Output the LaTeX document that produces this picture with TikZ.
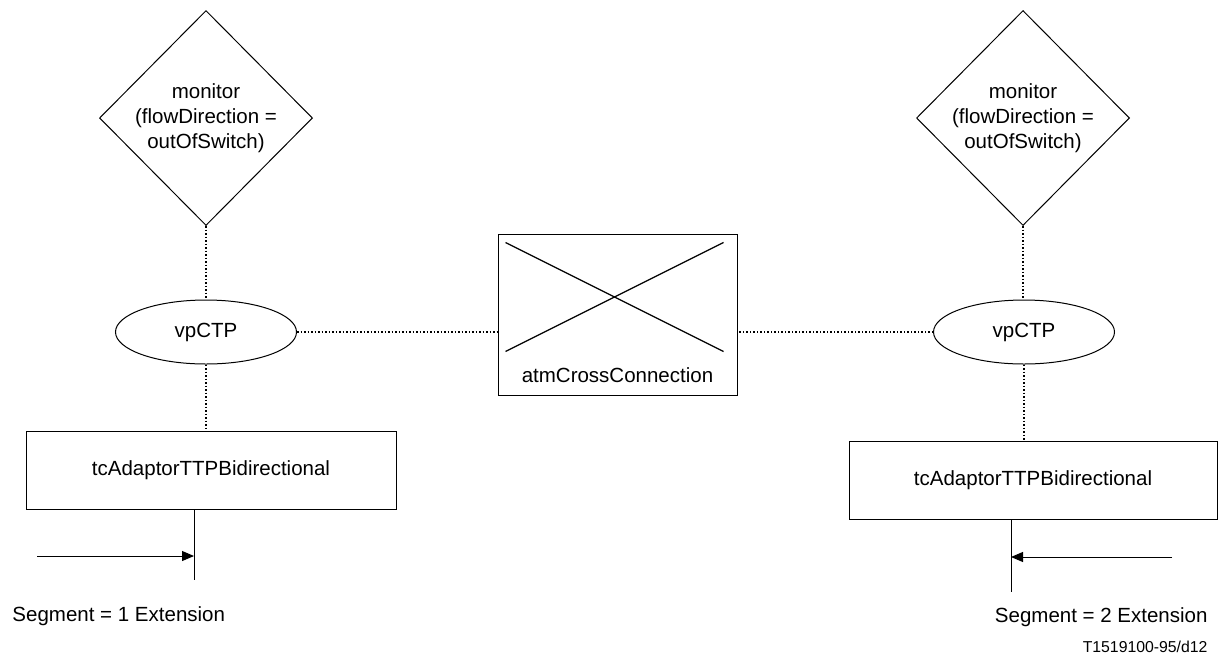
\documentclass[tikz,border=0pt]{standalone}
\usepackage{fontspec}
\setmainfont{Liberation Sans}
\usetikzlibrary{shapes.geometric,arrows.meta,calc}

\newcommand{\mainfnt}{\fontsize{20.5}{25}\selectfont}
\newcommand{\tagfnt}{\fontsize{15.8}{19}\selectfont}

\tikzset{
    mon/.style={draw, diamond, minimum width=213pt, minimum height=215pt,
        inner sep=0pt, align=center},
    ctp/.style={draw, ellipse, minimum width=181pt, minimum height=64pt},
    ttp/.style={draw, minimum width=370pt, minimum height=78pt},
    link/.style={line width=1.5pt, dash pattern=on 1.5pt off 2pt},
    flow/.style={-{Triangle[length=12pt,width=10pt]}},
}

\begin{document}
\begin{tikzpicture}[x=1pt, y=-1pt, line width=1pt, font=\mainfnt]
        \useasboundingbox (0,0) rectangle (1223,657);

        % monitors
        \node [mon] (monL) at (206,118) {monitor\\(flowDirection =\\outOfSwitch)};
        \node [mon] (monR) at (1023,118) {monitor\\(flowDirection =\\outOfSwitch)};

        % vpCTPs
        \node [ctp] (ctpL) at (206,332) {vpCTP};
        \node [ctp] (ctpR) at (1024,332) {vpCTP};

        % cross connection
        \node [draw,
            minimum width=239pt,
            minimum height=161pt,
        ] (xc) at (617.5,314.5) {};
        \draw [line width=1.3pt] ($(xc.north west)+(8,9)$) -- ($(xc.south east)+(-14,-44)$);
        \draw [line width=1.3pt] ($(xc.south west)+(8,-44)$) -- ($(xc.north east)+(-14,9)$);
        \node (xclbl) at ($(xc.south)+(0,-20)$) {atmCrossConnection};

        % adaptors
        \node [ttp] (ttpL) at (211,470) {tcAdaptorTTPBidirectional};
        \node [ttp, minimum width=368pt] (ttpR) at (1033,480) {tcAdaptorTTPBidirectional};

        % dotted links
        \draw [link] (monL.south) -- (monL.south |- ctpL.north);
        \draw [link] (monR.south) -- (monR.south |- ctpR.north);
        \draw [link] (ctpL.south) -- (ctpL.south |- ttpL.north);
        \draw [link] (ctpR.south) -- (ctpR.south |- ttpR.north);
        \draw [link] (ctpL.east) -- (ctpL.east -| xc.west);
        \draw [link] (ctpR.west) -- (ctpR.west -| xc.east);

        % segment ends
        \coordinate (endL) at (194,580);
        \coordinate (endR) at (1011,592);
        \coordinate (srcL) at (37,556);
        \coordinate (srcR) at (1172,557);
        \draw (endL |- ttpL.south) -- (endL);
        \draw (endR |- ttpR.south) -- (endR);
        \draw [flow] (srcL) -- (srcL -| endL);
        \draw [flow] (srcR) -- (srcR -| endR);

        \node [anchor=west, inner sep=0pt] (segL) at (12,616) {Segment = 1 Extension};
        \node [anchor=east, inner sep=0pt] (segR) at (1208,617) {Segment = 2 Extension};
        \node [anchor=east, inner sep=0pt, font=\tagfnt] (fig) at (1208,647) {T1519100-95/d12};
\end{tikzpicture}
\end{document}
